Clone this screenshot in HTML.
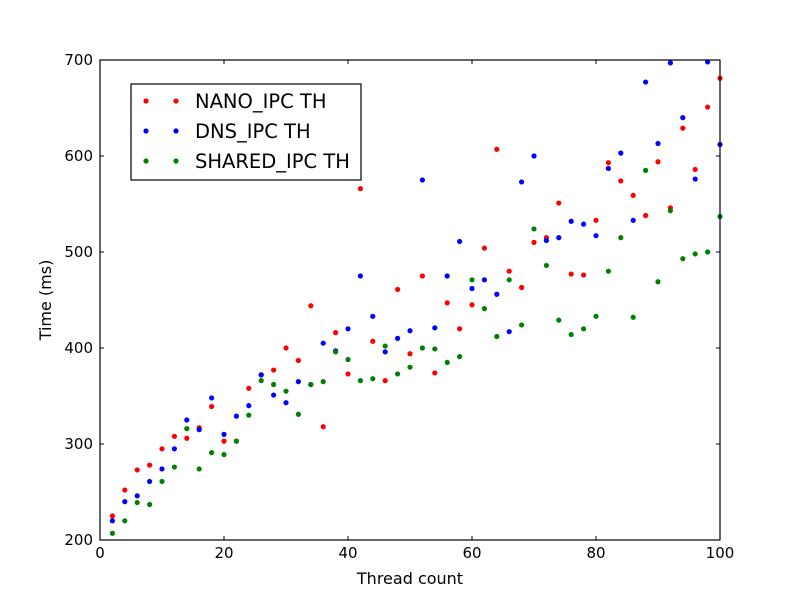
<!DOCTYPE html>
<html><head><meta charset="utf-8"><style>
body{margin:0;background:#fff;}
svg{display:block;font-family:"DejaVu Sans","Liberation Sans",sans-serif;}
</style></head><body>
<svg id="chart" width="800" height="600">
<rect width="800" height="600" fill="#fff"/>
<g id="ticks"></g>
<g id="marks"></g>
<rect x="100" y="60" width="620" height="480" fill="none" stroke="#000" stroke-width="1.2"/>
<text x="410" y="584" font-size="16" text-anchor="middle">Thread count</text>
<text x="51" y="300" font-size="16" text-anchor="middle" transform="rotate(-90 51 300)">Time (ms)</text>
<g>
<rect x="131" y="84" width="230" height="96" fill="#fff" stroke="#000" stroke-width="1.2"/>
<g><circle cx="146" cy="101" r="2.6" fill="red"/><circle cx="176" cy="101" r="2.6" fill="red"/><text x="195" y="108" font-size="19.5">NANO_IPC TH</text></g>
<g><circle cx="146" cy="131" r="2.6" fill="blue"/><circle cx="176" cy="131" r="2.6" fill="blue"/><text x="195" y="138" font-size="19.5">DNS_IPC TH</text></g>
<g><circle cx="146" cy="161" r="2.6" fill="green"/><circle cx="176" cy="161" r="2.6" fill="green"/><text x="195" y="168" font-size="19.5">SHARED_IPC TH</text></g>
</g>
</svg>
<script>
const threads=[2,4,6,8,10,12,14,16,18,20,22,24,26,28,30,32,34,36,38,40,42,44,46,48,50,52,54,56,58,60,62,64,66,68,70,72,74,76,78,80,82,84,86,88,90,92,94,96,98,100];
const nanoIpc=[225,252,273,278,295,308,306,317,339,303,303,358,372,377,400,387,444,318,416,373,566,407,366,461,394,475,374,447,420,445,504,607,480,463,510,515,551,477,476,533,593,574,559,538,594,546,629,586,651,681];
const dnsIpc=[220,240,246,261,274,295,325,315,348,310,329,340,372,351,343,365,362,405,397,420,475,433,396,410,418,575,421,475,511,462,471,456,417,573,600,512,515,532,529,517,587,603,533,677,613,697,640,576,698,612];
const sharedIpc=[207,220,239,237,261,276,316,274,291,289,303,330,366,362,355,331,362,365,396,388,366,368,402,373,380,400,399,385,391,471,441,412,471,424,524,486,429,414,420,433,480,515,432,585,469,543,493,498,500,537];
const xTicks=[0,20,40,60,80,100];
const yTicks=[200,300,400,500,600,700];
const NS='http://www.w3.org/2000/svg';
const X=v=>100+v*6.2, Y=v=>540-(v-200)*0.96;
const tg=document.getElementById('ticks'), mg=document.getElementById('marks');
function mk(t,a,p){const e=document.createElementNS(NS,t);for(const k in a)e.setAttribute(k,a[k]);p.appendChild(e);return e;}
xTicks.forEach(v=>{
 mk('line',{x1:X(v),x2:X(v),y1:540,y2:536,stroke:'#000'},tg);
 mk('line',{x1:X(v),x2:X(v),y1:60,y2:64,stroke:'#000'},tg);
 const t=mk('text',{x:X(v),y:558,'font-size':15,'text-anchor':'middle'},tg);t.textContent=v;
 
 
});
yTicks.forEach(v=>{
 mk('line',{x1:100,x2:104,y1:Y(v),y2:Y(v),stroke:'#000'},tg);
 mk('line',{x1:716,x2:720,y1:Y(v),y2:Y(v),stroke:'#000'},tg);
 const t=mk('text',{x:93,y:Y(v)+5,'font-size':15,'text-anchor':'end'},tg);t.textContent=v;
 
 
});
[[nanoIpc,'red','nano'],[dnsIpc,'blue','dns'],[sharedIpc,'green','shared']].forEach(([s,c,n])=>{
 s.forEach((v,i)=>{
  const e=mk('circle',{cx:X(threads[i]),cy:Y(v),r:2.6,fill:c},mg);
  
  
 });
});
</script>
</body></html>
